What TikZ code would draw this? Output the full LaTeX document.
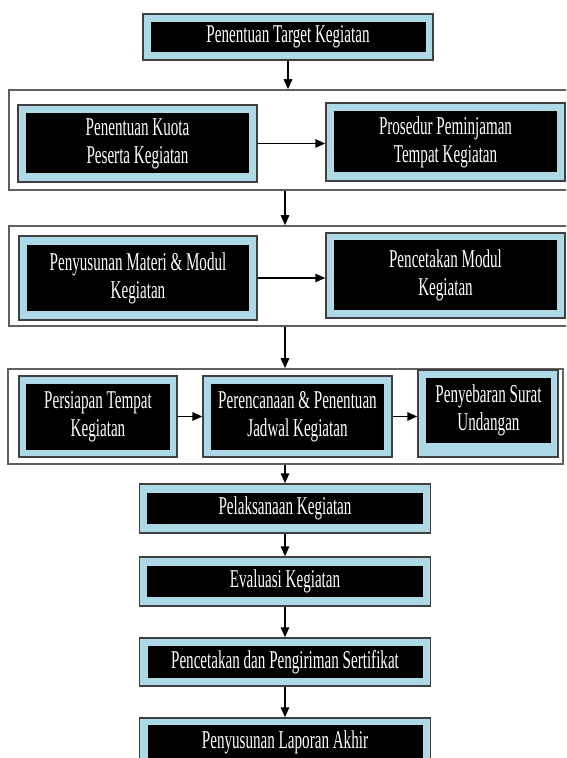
\documentclass[tikz,border=0pt]{standalone}
\usepackage{fontspec}
\setmainfont{Liberation Serif}[FakeStretch=0.59]
\usepackage{tikz}
\usetikzlibrary{arrows.meta}
\definecolor{kgblue}{RGB}{173,216,230}
\definecolor{kgedge}{RGB}{64,64,64}
\definecolor{kggray}{RGB}{96,96,96}
\tikzset{
  kgouter/.style={draw=kgedge, line width=.7pt, fill=kgblue, inner sep=0pt},
  kginner/.style={fill=black, text=white, align=center, inner sep=0pt, font=\fontsize{12.8}{14}\selectfont},
  kggroup/.style={draw=kggray, line width=.8pt, fill=white, inner sep=0pt},
  kgarr/.style={-{Triangle[length=5pt,width=4.2pt]}, line width=.85pt, draw=black}
}

\begin{document}
\begin{tikzpicture}[x=.5pt, y=-.5pt]
  \path[use as bounding box, clip] (0,0) rectangle (566,758);
  \node[kgouter, minimum width=145pt, minimum height=23pt] (target) at (288,37) {};
  \node[kginner, minimum width=137.5pt, minimum height=15pt] (targetlab) at (target) {Penentuan Target Kegiatan};

  \node[kggroup, minimum width=283pt, minimum height=50pt] (grupa) at (292,140) {};
  \node[kgouter, minimum width=119.5pt, minimum height=38.5pt] (kuota) at (137.5,143.5) {};
  \node[kginner, minimum width=111.5pt, minimum height=30pt] (kuotalab) at (kuota) {Penentuan Kuota\\Peserta Kegiatan};
  \node[kgouter, minimum width=119.5pt, minimum height=39pt] (pinjam) at (445.5,142) {};
  \node[kginner, minimum width=111.5pt, minimum height=30.5pt] (pinjamlab) at (pinjam) {Prosedur Peminjaman\\Tempat Kegiatan};

  \node[kggroup, minimum width=283pt, minimum height=50pt] (grupb) at (292,276) {};
  \node[kgouter, minimum width=119pt, minimum height=42pt] (materi) at (138,278) {};
  \node[kginner, minimum width=111pt, minimum height=33pt] (materilab) at (materi) {Penyusunan Materi \& Modul\\Kegiatan};
  \node[kgouter, minimum width=119.5pt, minimum height=42.5pt] (cetak) at (445.5,275.5) {};
  \node[kginner, minimum width=111.5pt, minimum height=35pt] (cetaklab) at (cetak) {Pencetakan Modul\\Kegiatan};

  \node[kggroup, minimum width=277.5pt, minimum height=47.5pt] (grupc) at (285.5,416.5) {};
  \node[kgouter, minimum width=79pt, minimum height=40.5pt] (tempat) at (98,416.5) {};
  \node[kginner, minimum width=72pt, minimum height=33pt] (tempatlab) at (tempat) {Persiapan Tempat\\Kegiatan};
  \node[kgouter, minimum width=94.5pt, minimum height=40.5pt] (jadwal) at (297.5,416.5) {};
  \node[kginner, minimum width=86.5pt, minimum height=33pt] (jadwallab) at (jadwal) {Perencanaan \& Penentuan\\Jadwal Kegiatan};
  \node[kgouter, minimum width=70pt, minimum height=43.5pt] (undangan) at (488,413.5) {};
  \node[kginner, minimum width=62.5pt, minimum height=32.5pt] (undanganlab) at ([shift={(0.5,-3)}]undangan.center) {Penyebaran Surat\\Undangan};

  \node[kgouter, minimum width=145.5pt, minimum height=24.5pt] (laksana) at (285,508.5) {};
  \node[kginner, minimum width=138pt, minimum height=15.5pt] (laksanalab) at (laksana) {Pelaksanaan Kegiatan};
  \node[kgouter, minimum width=145.5pt, minimum height=24.5pt] (evaluasi) at (285,581.5) {};
  \node[kginner, minimum width=138pt, minimum height=15.5pt] (evaluasilab) at (evaluasi) {Evaluasi Kegiatan};
  \node[kgouter, minimum width=145.5pt, minimum height=24pt] (sertifikat) at (285,662) {};
  \node[kginner, minimum width=137.5pt, minimum height=16pt] (sertifikatlab) at (sertifikat) {Pencetakan dan Pengiriman Sertifikat};
  \node[kgouter, minimum width=145.5pt, minimum height=24.5pt] (laporan) at (285,742.5) {};
  \node[kginner, minimum width=137.5pt, minimum height=18pt] (laporanlab) at (laporan) {Penyusunan Laporan Akhir};

  \draw[kgarr] (target) -- (target |- grupa.north);
  \draw[kgarr] (kuota.east) -- (kuota.east -| pinjam.west);
  \draw[kgarr] (laksana |- grupa.south) -- (laksana |- grupb.north);
  \draw[kgarr] (materi.east) -- (materi.east -| cetak.west);
  \draw[kgarr] (laksana |- grupb.south) -- (laksana |- grupc.north);
  \draw[kgarr] (tempat.east) -- (tempat.east -| jadwal.west);
  \draw[kgarr] (jadwal.east) -- (jadwal.east -| undangan.west);
  \draw[kgarr] (laksana |- grupc.south) -- (laksana);
  \draw[kgarr] (laksana) -- (evaluasi);
  \draw[kgarr] (evaluasi) -- (sertifikat);
  \draw[kgarr] (sertifikat) -- (laporan);
\end{tikzpicture}
\end{document}
